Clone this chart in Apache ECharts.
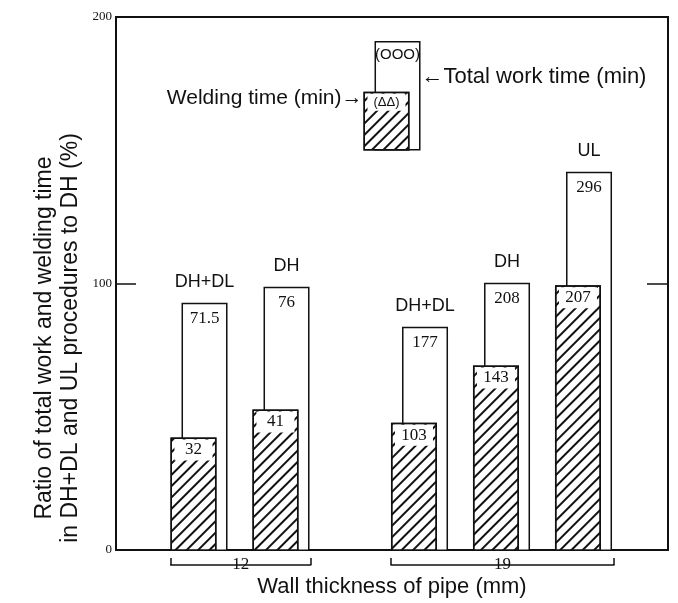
<!DOCTYPE html>
<html>
<head>
<meta charset="utf-8">
<script src="https://cdn.jsdelivr.net/npm/echarts@6/dist/echarts.min.js"></script>
<style>
  html, body { margin: 0; padding: 0; background: #fff; }
  #chart { width: 678px; height: 603px; }
</style>
</head>
<body>
<div id="chart"></div>
<script>
// wall thickness (mm) and the procedures used for each
let groups = ['12', '19'];
let procedures12 = ['DH+DL', 'DH'];
let procedures19 = ['DH+DL', 'DH', 'UL'];

// minutes written on the bars
let totalWork12 = ['71.5', '76'];
let welding12 = ['32', '41'];
let totalWork19 = ['177', '208', '296'];
let welding19 = ['103', '143', '207'];

// ratio to DH (%)
let totalRatio12 = [93, 99];
let weldRatio12 = [42.5, 53];
let totalRatio19 = [84, 100.5, 142];
let weldRatio19 = [48, 69.5, 99.5];

// key box (in axis units)
let keyBase = 150;
let keyWeld = 172;
let keyTotal = 191;

let yTicks = [0, 100, 200];

const SANS = 'Liberation Sans, Arial, sans-serif';
const SERIF = 'Liberation Serif, Times New Roman, serif';
const INK = '#111';

let hatch = {
    symbol: 'rect',
    symbolSize: 1,
    color: INK,
    dashArrayX: [1, 0],
    dashArrayY: [1.6, 6],
    rotation: -Math.PI / 4
};

function weldBar(axis, values, texts, stack) {
    return {
        type: 'bar', xAxisIndex: axis, yAxisIndex: axis, stack: stack,
        data: values, barWidth: 46, barGap: '-76%', z: 3,
        itemStyle: { color: '#fff', borderColor: INK, borderWidth: 1.5, decal: hatch },
        label: {
            show: true, position: 'insideTop', distance: 2,
            formatter: p => texts[p.dataIndex],
            fontFamily: SERIF, fontSize: 17, color: INK,
            backgroundColor: '#fff', width: 38, align: 'center', padding: [2, 0]
        }
    };
}

function totalBar(axis, values, texts, stack) {
    return {
        type: 'bar', xAxisIndex: axis, yAxisIndex: axis, stack: stack,
        data: values, barWidth: 46, barGap: '-76%', z: 2,
        itemStyle: { color: '#fff', borderColor: INK, borderWidth: 1.5 },
        label: {
            show: true, position: 'insideTop', distance: 7,
            formatter: p => texts[p.dataIndex],
            fontFamily: SERIF, fontSize: 17, color: INK
        }
    };
}

// zero height bar stacked on top, only carries a text
function tagBar(axis, texts, stack, label) {
    return {
        type: 'bar', xAxisIndex: axis, yAxisIndex: axis, stack: stack,
        data: texts.map(() => 0), barWidth: 46, barGap: '-76%', silent: true,
        itemStyle: { color: 'transparent', borderWidth: 0 },
        label: Object.assign({
            show: true, formatter: p => texts[p.dataIndex],
            fontFamily: SANS, fontSize: 18, color: INK
        }, label)
    };
}

function baseBar(axis, value, stack) {
    return {
        type: 'bar', xAxisIndex: axis, yAxisIndex: axis, stack: stack,
        data: [value], barWidth: 46, barGap: '-76%', silent: true,
        itemStyle: { color: 'transparent', borderWidth: 0 }
    };
}

function hiddenY(grid) {
    return { gridIndex: grid, type: 'value', min: yTicks[0], max: yTicks[2], show: false };
}

function bracket(grid, name) {
    return {
        gridIndex: grid, type: 'value', min: 0, max: 1, interval: 1,
        position: 'bottom', offset: 14,
        axisLine: { onZero: false, lineStyle: { color: INK, width: 1.5 } },
        axisTick: { show: true, inside: true, length: 7, lineStyle: { color: INK, width: 1.5 } },
        axisLabel: { show: false }, splitLine: { show: false },
        name: name, nameLocation: 'middle', nameGap: 0,
        nameTextStyle: {
            fontFamily: SERIF, fontSize: 17, color: INK,
            verticalAlign: 'middle', backgroundColor: '#fff', padding: [2, 3]
        }
    };
}

let frameLine = { onZero: false, lineStyle: { color: INK, width: 2 } };

let chart = echarts.init(document.getElementById('chart'));
let option = {
    animation: false,
    backgroundColor: '#fff',
    grid: [
        { left: 116, right: 10, top: 17, bottom: 52 },
        { left: 158, width: 164, top: 17, bottom: 52 },
        { left: 378.5, width: 246, top: 17, bottom: 52 },
        { left: 351, width: 82, top: 17, bottom: 52 },
        { left: 170.7, width: 140, top: 17, bottom: 52 },
        { left: 391, width: 223, top: 17, bottom: 52 },
        { left: 116, right: 10, top: 125, bottom: 52 }
    ],
    xAxis: [
        {
            gridIndex: 0, type: 'value', min: 0, max: 1, position: 'bottom',
            axisLine: frameLine, axisTick: { show: false }, axisLabel: { show: false },
            splitLine: { show: false },
            name: 'Wall thickness of pipe (mm)', nameLocation: 'middle', nameGap: 26,
            nameTextStyle: { fontFamily: SANS, fontSize: 22, color: INK }
        },
        {
            gridIndex: 0, type: 'value', min: 0, max: 1, position: 'top',
            axisLine: frameLine, axisTick: { show: false }, axisLabel: { show: false },
            splitLine: { show: false }
        },
        { gridIndex: 1, type: 'category', data: procedures12, show: false },
        { gridIndex: 2, type: 'category', data: procedures19, show: false },
        { gridIndex: 3, type: 'category', data: ['key'], show: false },
        bracket(4, groups[0]),
        bracket(5, groups[1]),
        { gridIndex: 6, type: 'value', show: false }
    ],
    yAxis: [
        {
            gridIndex: 0, type: 'value', min: yTicks[0], max: yTicks[2], interval: yTicks[1],
            position: 'left', axisLine: frameLine,
            axisTick: { show: true, inside: true, length: 20, lineStyle: { color: INK, width: 1.5 } },
            axisLabel: { fontFamily: SERIF, fontSize: 13, color: INK, margin: 4 },
            splitLine: { show: false }
        },
        {
            gridIndex: 0, type: 'value', min: yTicks[0], max: yTicks[2], interval: yTicks[1],
            position: 'right', axisLine: frameLine,
            axisTick: { show: true, inside: true, length: 21, lineStyle: { color: INK, width: 1.5 } },
            axisLabel: { show: false }, splitLine: { show: false }
        },
        hiddenY(1), hiddenY(2), hiddenY(3), hiddenY(4), hiddenY(5),
        {
            gridIndex: 6, type: 'value', min: 0, max: 1,
            axisLine: { show: false }, axisTick: { show: false }, axisLabel: { show: false },
            splitLine: { show: false },
            name: 'Ratio of total work and welding time\nin DH+DL and UL procedures to DH (%)',
            nameLocation: 'middle', nameGap: 32,
            nameTextStyle: { fontFamily: SANS, fontSize: 23, lineHeight: 26, color: INK }
        }
    ],
    series: [
        // 12 mm
        weldBar(2, weldRatio12, welding12),
        totalBar(2, totalRatio12, totalWork12, 't12'),
        tagBar(2, procedures12, 't12', { position: 'top', distance: 12 }),
        // 19 mm
        weldBar(3, weldRatio19, welding19),
        totalBar(3, totalRatio19, totalWork19, 't19'),
        tagBar(3, procedures19, 't19', { position: 'top', distance: 12 }),
        // key
        baseBar(4, keyBase, 'kh'),
        weldBar(4, [keyWeld - keyBase], ['(\u0394\u0394)'], 'kh'),
        tagBar(4, ['Welding time (min)\u2192'], 'kh', { position: 'left', distance: 1, offset: [0, 6], fontSize: 21 }),
        baseBar(4, keyBase, 'kw'),
        totalBar(4, [keyTotal - keyBase], ['(OOO)'], 'kw'),
        tagBar(4, ['\u2190Total work time (min)'], 'kw', { position: 'right', distance: 1, offset: [0, 36], fontSize: 22 })
    ]
};
// smaller type inside the key box
option.series[7].label.fontFamily = SANS;
option.series[7].label.fontSize = 13;
option.series[10].label.fontFamily = SANS;
option.series[10].label.fontSize = 15;
option.series[10].label.distance = 6;
chart.setOption(option);
</script>
</body>
</html>
